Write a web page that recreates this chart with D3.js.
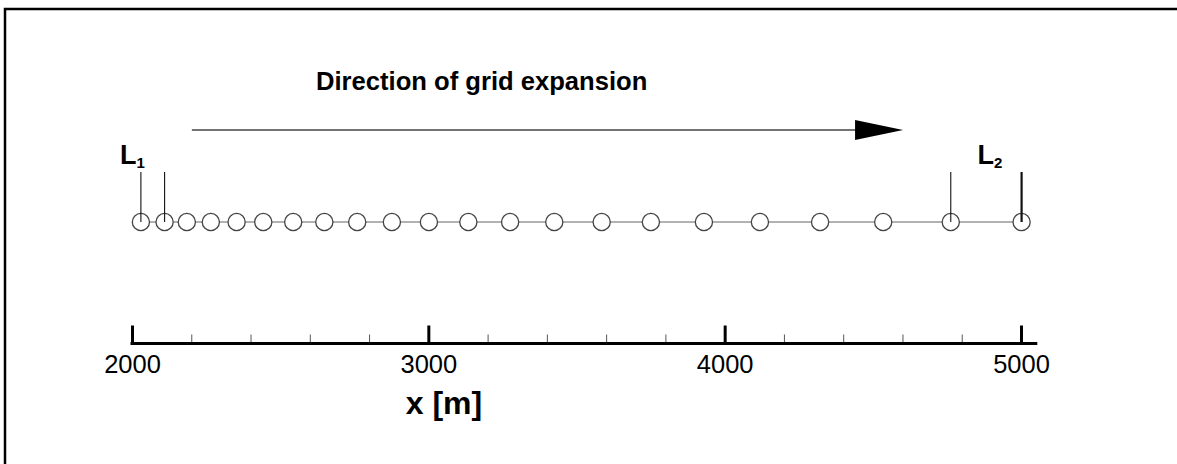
<!DOCTYPE html>
<html>
<head>
<meta charset="utf-8">
<script src="https://cdn.jsdelivr.net/npm/d3@7"></script>
<style>
  html, body { margin: 0; padding: 0; background: #fff; }
  svg { display: block; font-family: Arial, "Liberation Sans", sans-serif; }
</style>
</head>
<body>
<svg id="chart" width="1177" height="464"></svg>
<script>
// grid node positions along x [m]
const gridX = [2030, 2110, 2185, 2266, 2353, 2443, 2544, 2649, 2760, 2877, 3002,
               3135, 3276, 3425, 3585, 3751, 3930, 4119, 4322, 4535, 4763, 5002];
const majorTicks = [2000, 3000, 4000, 5000];
const minorTicks = [2200, 2400, 2600, 2800, 3200, 3400, 3600, 3800, 4200, 4400, 4600, 4800];
// indices of the nodes that bound the two marked regions
const markL1 = [0, 1];
const markL2 = [20, 21];
const arrowFrom = 2202, arrowTo = 4602;

const svg = d3.select("#chart");

let x = d3.scaleLinear().domain([2000, 5000]).range([132, 1021]);

const lineY = 222;
const axisY = 343.5;

// frame (runs off the right and bottom of the picture)
svg.append("path")
    .attr("d", "M5,470V9H1185")
    .attr("fill", "none")
    .attr("stroke", "#000")
    .attr("stroke-width", 2.5);

// title + arrow
svg.append("text")
    .attr("x", 316)
    .attr("y", 90)
    .style("font-size", "25.6px")
    .style("font-weight", "bold")
    .text("Direction of grid expansion");

svg.append("line")
    .attr("x1", x(arrowFrom)).attr("x2", x(arrowTo) - 45)
    .attr("y1", 130).attr("y2", 130)
    .attr("stroke", "#444").attr("stroke-width", 1.3);

svg.append("path")
    .attr("d", `M${x(arrowTo) - 48},120L${x(arrowTo)},130L${x(arrowTo) - 48},140Z`)
    .attr("fill", "#000");

// grid line + nodes
svg.append("line")
    .attr("x1", x(gridX[0])).attr("x2", x(gridX[gridX.length - 1]))
    .attr("y1", lineY).attr("y2", lineY)
    .attr("stroke", "#999").attr("stroke-width", 1.6);

let marks = markL1.concat(markL2);

svg.append("g").selectAll("circle")
    .data(gridX)
    .join("circle")
    .attr("cx", d => x(d))
    .attr("cy", lineY)
    .attr("r", 8.6)
    .attr("fill", "#fff")
    .attr("stroke", "#444")
    .attr("stroke-width", 1.3);

svg.append("g").selectAll("line")
    .data(marks)
    .join("line")
    .attr("x1", d => x(gridX[d])).attr("x2", d => x(gridX[d]))
    .attr("y1", 172).attr("y2", lineY)
    .attr("stroke", "#111")
    .attr("stroke-width", d => d === gridX.length - 1 ? 2.2 : 1.1);

// L1 / L2 labels
function label(xEnd, sub){
    let t = svg.append("text")
        .attr("x", xEnd)
        .attr("y", 164)
        .style("font-weight", "bold")
        .style("font-size", "27px");
    t.append("tspan").text("L");
    t.append("tspan").attr("dy", 4).style("font-size", "15px").text(sub);
}
label(x(gridX[markL1[0]]) - 21, "1");
label(x(gridX[markL2[1]]) - 44, "2");

// axis
const axisG = svg.append("g").attr("transform", `translate(0,${axisY})`);

axisG.append("g")
    .call(d3.axisBottom(x).tickValues(minorTicks).tickSizeInner(-9).tickSizeOuter(0).tickFormat(""))
    .call(g => g.select(".domain").remove())
    .call(g => g.selectAll(".tick line").attr("stroke", "#555").attr("stroke-width", 1));

axisG.append("g")
    .call(d3.axisBottom(x).tickValues(majorTicks).tickSizeInner(-18).tickSizeOuter(0)
        .tickPadding(11.5).tickFormat(d3.format("d")))
    .call(g => g.select(".domain").remove())
    .call(g => g.selectAll(".tick line").attr("stroke", "#000").attr("stroke-width", 3))
    .call(g => g.selectAll(".tick text")
        .attr("fill", "#000")
        .style("font-family", "Arial, 'Liberation Sans', sans-serif")
        .style("font-size", "25.5px"));

axisG.append("line")
    .attr("x1", x.range()[0] - 1.5).attr("x2", x(5055))
    .attr("y1", 0).attr("y2", 0)
    .attr("stroke", "#000").attr("stroke-width", 3);

svg.append("text")
    .attr("x", 444)
    .attr("y", 414)
    .attr("text-anchor", "middle")
    .style("font-size", "32px")
    .style("font-weight", "bold")
    .text("x [m]");
</script>
</body>
</html>
